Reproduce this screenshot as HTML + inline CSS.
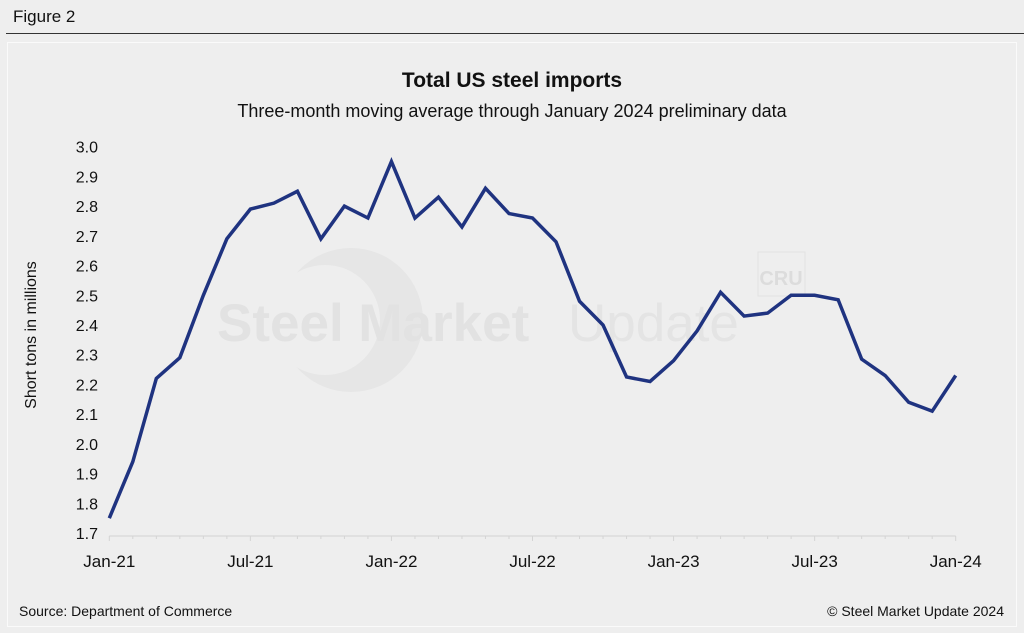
<!DOCTYPE html>
<html><head><meta charset="utf-8"><style>
body{margin:0;width:1024px;height:633px;background:#eeeeee;font-family:"Liberation Sans",sans-serif;overflow:hidden;position:relative}
</style></head><body>
<div style="position:absolute;left:13px;top:7px;font-size:17px;color:#111">Figure 2</div>
<div style="position:absolute;left:6px;top:33px;width:1018px;height:1px;background:#333"></div>
<div style="position:absolute;left:7px;top:42px;width:1010px;height:585px;border:1px solid #fafafa;box-sizing:border-box"></div>
<svg width="1024" height="633" style="position:absolute;left:0;top:0" font-family="Liberation Sans, sans-serif">
<text x="512" y="87" text-anchor="middle" font-size="21" font-weight="bold" fill="#111">Total US steel imports</text>
<text x="512" y="117" text-anchor="middle" font-size="18" fill="#111">Three-month moving average through January 2024 preliminary data</text>
<g opacity="1">
<circle cx="351" cy="320" r="72" fill="#e6e6e6"/><circle cx="325" cy="320" r="55" fill="#eeeeee"/>
<text x="217" y="341" font-size="53" font-weight="bold" fill="#e2e2e2">Steel Market</text>
<text x="568" y="341" font-size="53" fill="#e4e4e4">Update</text>
<rect x="758" y="252" width="47" height="44" fill="none" stroke="#e2e2e2"/>
<text x="781" y="285" text-anchor="middle" font-size="20" font-weight="bold" fill="#dcdcdc">CRU</text>
</g>
<g id="axes"></g>
<text transform="translate(36,335) rotate(-90)" text-anchor="middle" font-size="16" fill="#111">Short tons in millions</text>
<text x="19" y="616" font-size="14" fill="#111">Source: Department of Commerce</text>
<text x="1004" y="616" text-anchor="end" font-size="14" fill="#111">© Steel Market Update 2024</text>
</svg>
<script>
const months=["Jan-21","Feb-21","Mar-21","Apr-21","May-21","Jun-21","Jul-21","Aug-21","Sep-21","Oct-21","Nov-21","Dec-21","Jan-22","Feb-22","Mar-22","Apr-22","May-22","Jun-22","Jul-22","Aug-22","Sep-22","Oct-22","Nov-22","Dec-22","Jan-23","Feb-23","Mar-23","Apr-23","May-23","Jun-23","Jul-23","Aug-23","Sep-23","Oct-23","Nov-23","Dec-23","Jan-24"];
const imports=[1.75,1.94,2.22,2.29,2.50,2.69,2.79,2.81,2.85,2.69,2.80,2.76,2.95,2.76,2.83,2.73,2.86,2.775,2.76,2.68,2.48,2.40,2.225,2.21,2.28,2.38,2.51,2.43,2.44,2.50,2.50,2.485,2.285,2.23,2.14,2.11,2.23];
const yTicks=[1.7,1.8,1.9,2.0,2.1,2.2,2.3,2.4,2.5,2.6,2.7,2.8,2.9,3.0];
const xLabels=["Jan-21","Jul-21","Jan-22","Jul-22","Jan-23","Jul-23","Jan-24"];
const NS="http://www.w3.org/2000/svg";
const g=document.getElementById('axes');
const x0=109.3,x1=955.7,y0=533,y1=146.7,vMin=1.7,vMax=3.0;
const xs=i=>x0+(x1-x0)*i/(months.length-1);
const ys=v=>y0-(v-vMin)/(vMax-vMin)*(y0-y1);
function mk(t,a){const e=document.createElementNS(NS,t);for(const k in a)e.setAttribute(k,a[k]);g.appendChild(e);return e;}
const ax=mk('line',{x1:x0,x2:x1,y1:y0+3,y2:y0+3,stroke:'#dcdcdc','stroke-width':1.5});


months.forEach((m,i)=>{
 const major=m.startsWith('Jan')||m.startsWith('Jul');
 const t=mk('line',{x1:xs(i),x2:xs(i),y1:y0+3,y2:y0+(major?8:6),stroke:'#d4d4d4'});
 
 
});
yTicks.forEach(v=>{
 const t=mk('text',{x:98,y:ys(v)+6,'text-anchor':'end','font-size':16,fill:'#111'});
 t.textContent=v.toFixed(1);
 
 
});
xLabels.forEach(l=>{
 const i=months.indexOf(l);
 const t=mk('text',{x:xs(i),y:567,'text-anchor':'middle','font-size':17,fill:'#111'});
 t.textContent=l;
 
 
});
const p=mk('polyline',{points:imports.map((v,i)=>xs(i)+','+ys(v)).join(' '),fill:'none',stroke:'#1f3380','stroke-width':3.5,'stroke-linejoin':'miter'});


</script>
</body></html>
